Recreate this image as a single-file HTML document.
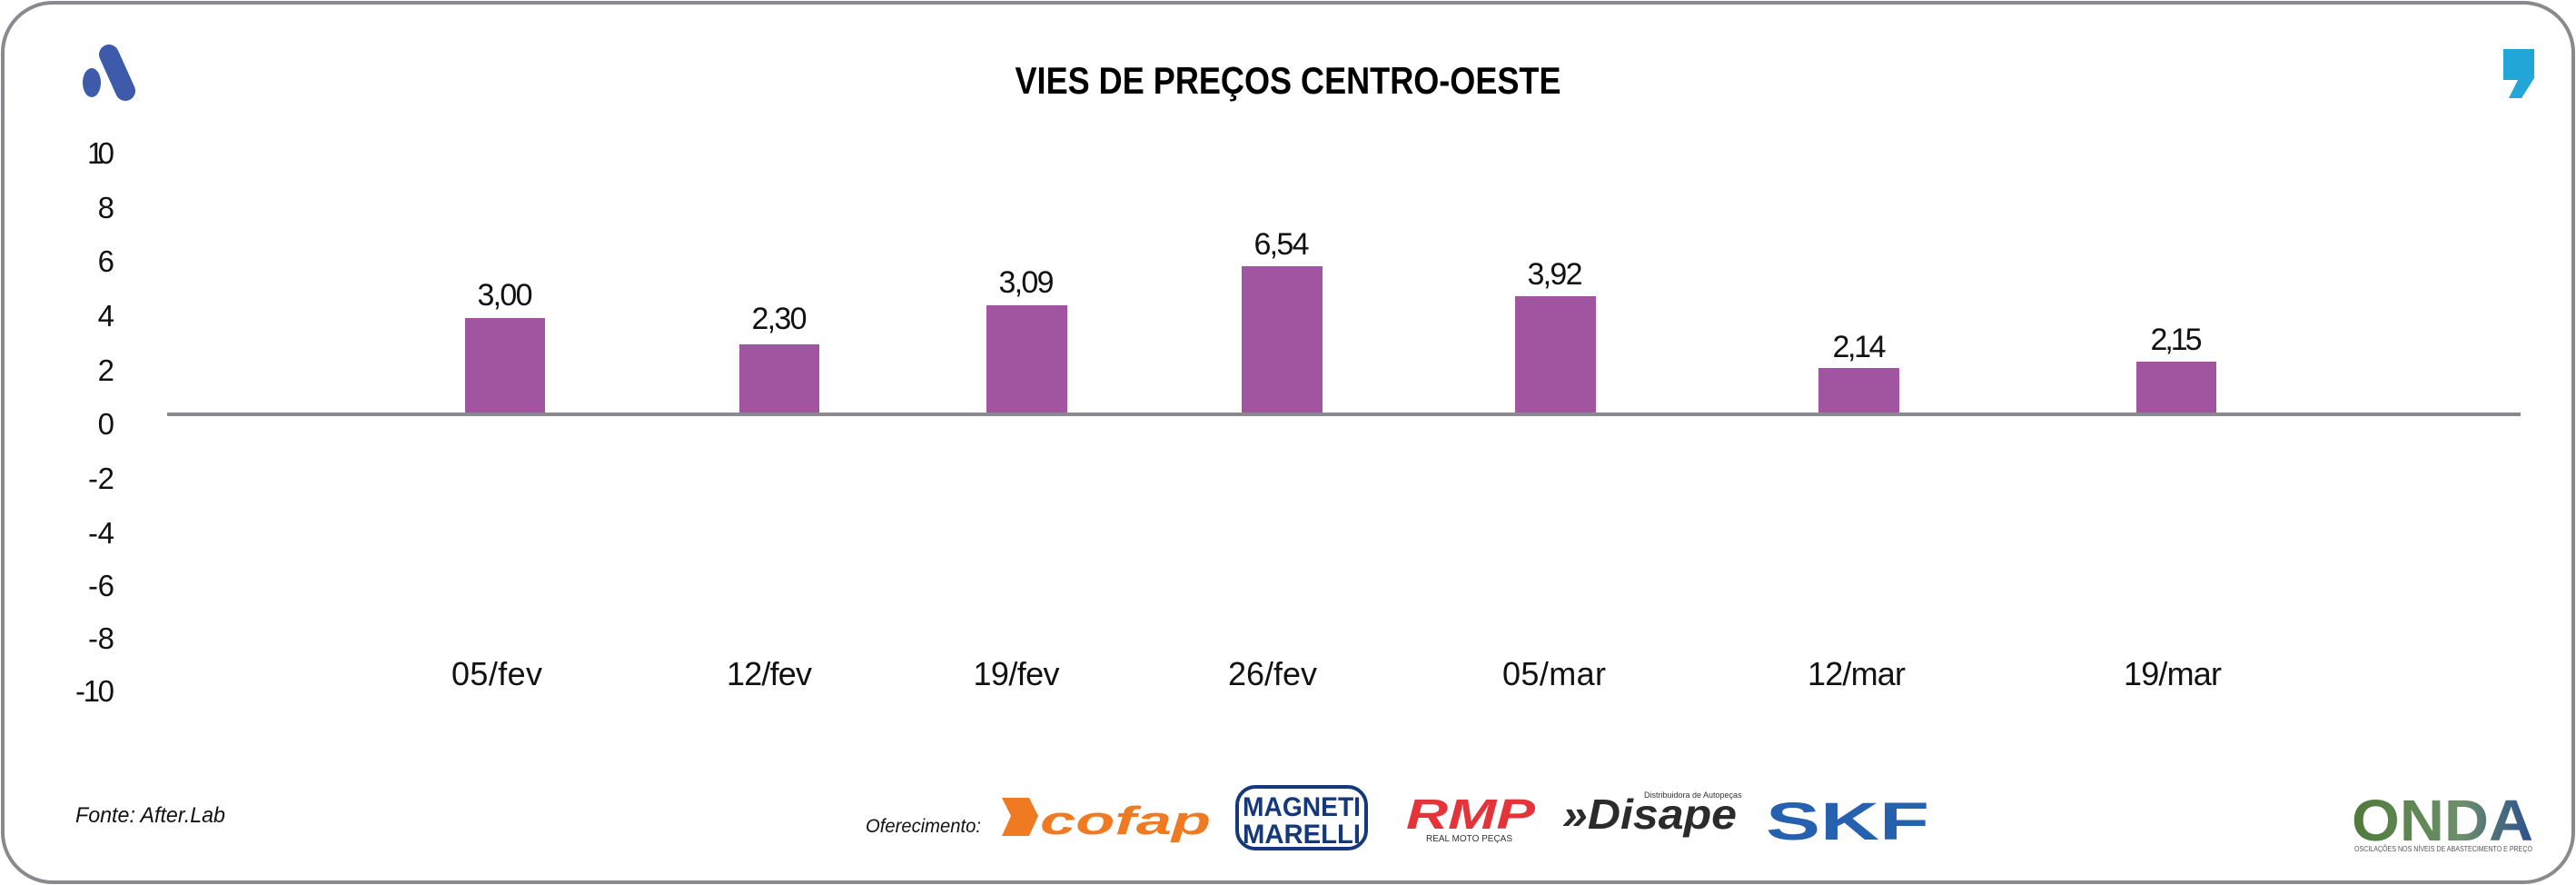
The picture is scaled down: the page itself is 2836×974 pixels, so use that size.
<!DOCTYPE html>
<html><head><meta charset="utf-8"><style>
html,body{margin:0;padding:0;background:#fff}
svg{display:block}
text{font-family:"Liberation Sans Narrow","Liberation Sans",sans-serif}
</style></head><body>
<svg width="2836" height="974" viewBox="0 0 2836 974" xmlns="http://www.w3.org/2000/svg">
<rect x="3" y="3" width="2830" height="968" rx="55" ry="55" fill="#fff" stroke="#8a8a8e" stroke-width="4"/>
<line x1="120" y1="60" x2="138" y2="100" stroke="#3d5aab" stroke-width="22" stroke-linecap="round"/>
<ellipse cx="101" cy="91" rx="10" ry="16" fill="#3d5aab"/>
<path d="M2756 54 h34 v32 l-14 22 h-14 l10 -20 h-16 z" fill="#22a6d8"/>
<text x="1418" y="103" font-size="42" font-weight="bold" text-anchor="middle" textLength="601" lengthAdjust="spacingAndGlyphs">VIES DE PREÇOS CENTRO-OESTE</text>
<g font-size="33" text-anchor="end" fill="#111" lengthAdjust="spacingAndGlyphs">
<text x="126" y="180" textLength="30">10</text>
<text x="126" y="240" textLength="16">8</text>
<text x="126" y="299" textLength="16">6</text>
<text x="126" y="359" textLength="16">4</text>
<text x="126" y="419" textLength="16">2</text>
<text x="126" y="478" textLength="16">0</text>
<text x="126" y="538" textLength="29">-2</text>
<text x="126" y="598" textLength="29">-4</text>
<text x="126" y="656" textLength="29">-6</text>
<text x="126" y="714" textLength="29">-8</text>
<text x="126" y="772" textLength="43">-10</text>
</g>
<g fill="#a155a0">
<rect x="512" y="350" width="88" height="104"/>
<rect x="814" y="379" width="88" height="75"/>
<rect x="1086" y="336" width="89" height="118"/>
<rect x="1367" y="293" width="89" height="161"/>
<rect x="1668" y="326" width="89" height="128"/>
<rect x="2002" y="405" width="89" height="49"/>
<rect x="2352" y="398" width="88" height="56"/>
</g>
<rect x="184" y="454" width="2591" height="4" fill="#8a8a8e"/>
<g font-size="34" text-anchor="middle" fill="#111" lengthAdjust="spacingAndGlyphs">
<text x="556" y="336" textLength="61">3,00</text>
<text x="858" y="362" textLength="61">2,30</text>
<text x="1130" y="322" textLength="61">3,09</text>
<text x="1411" y="280" textLength="61">6,54</text>
<text x="1712" y="313" textLength="61">3,92</text>
<text x="2047" y="393" textLength="59">2,14</text>
<text x="2396" y="385" textLength="57">2,15</text>
</g>
<g font-size="36" text-anchor="middle" fill="#111" lengthAdjust="spacingAndGlyphs">
<text x="547" y="754" textLength="100">05/fev</text>
<text x="847" y="754" textLength="94">12/fev</text>
<text x="1119" y="754" textLength="95">19/fev</text>
<text x="1401" y="754" textLength="98">26/fev</text>
<text x="1711" y="754" textLength="114">05/mar</text>
<text x="2044" y="754" textLength="108">12/mar</text>
<text x="2392" y="754" textLength="108">19/mar</text>
</g>
<text x="83" y="905" font-size="24" font-style="italic" fill="#111" textLength="165" lengthAdjust="spacingAndGlyphs">Fonte: After.Lab</text>
<text x="953" y="916" font-size="21" font-style="italic" fill="#111" textLength="127" lengthAdjust="spacingAndGlyphs">Oferecimento:</text>
<path d="M1103 878 h30 l10 20 l-10 22 h-30 l10 -22 z" fill="#f07a22"/>
<text x="1145" y="918" font-size="44" font-weight="bold" font-style="italic" fill="#f07a22" textLength="188" lengthAdjust="spacingAndGlyphs">cofap</text>
<rect x="1362" y="866" width="142" height="68" rx="20" fill="none" stroke="#14387a" stroke-width="4"/>
<text x="1433" y="898" font-size="30" font-weight="bold" text-anchor="middle" fill="#14387a" textLength="130" lengthAdjust="spacingAndGlyphs">MAGNETI</text>
<text x="1433" y="928" font-size="30" font-weight="bold" text-anchor="middle" fill="#14387a" textLength="130" lengthAdjust="spacingAndGlyphs">MARELLI</text>
<text x="1548" y="912" font-size="46" font-weight="bold" font-style="italic" fill="#e5333a" textLength="142" lengthAdjust="spacingAndGlyphs">RMP</text>
<text x="1570" y="926" font-size="10" fill="#333">REAL MOTO PEÇAS</text>
<text x="1720" y="912" font-size="46" font-weight="bold" font-style="italic" fill="#2b2b2b" textLength="192" lengthAdjust="spacingAndGlyphs">»Disape</text>
<text x="1810" y="878" font-size="9" fill="#333">Distribuidora de Autopeças</text>
<text x="1944" y="924" font-size="58" font-weight="bold" fill="#2661b0" textLength="180" lengthAdjust="spacingAndGlyphs">SKF</text>
<defs><linearGradient id="og" x1="0" x2="1"><stop offset="0" stop-color="#4f7a3a"/><stop offset="0.6" stop-color="#6d8f6a"/><stop offset="1" stop-color="#2c4f8f"/></linearGradient></defs>
<text x="2589" y="925" font-size="64" font-weight="bold" fill="url(#og)" textLength="200" lengthAdjust="spacingAndGlyphs">ONDA</text>
<text x="2592" y="937" font-size="8" fill="#555" textLength="196" lengthAdjust="spacingAndGlyphs">OSCILAÇÕES NOS NÍVEIS DE ABASTECIMENTO E PREÇO</text>
</svg>
</body></html>
